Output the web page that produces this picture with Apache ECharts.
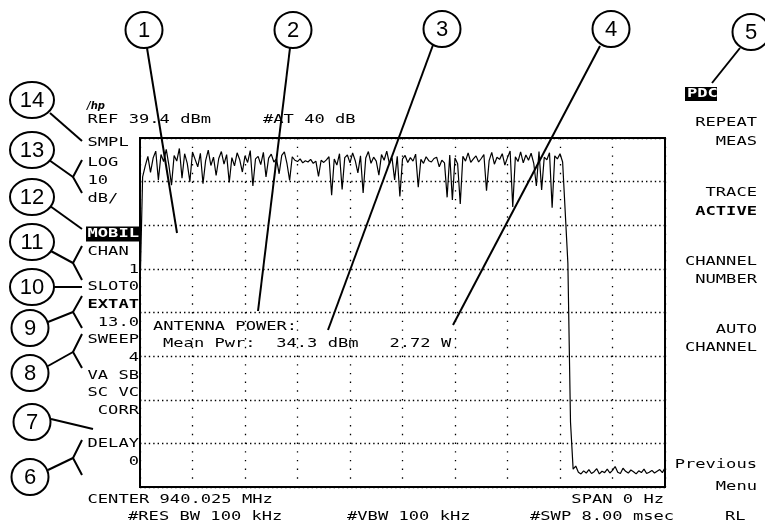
<!DOCTYPE html>
<html>
<head>
<meta charset="utf-8">
<title>Antenna power - zero span</title>
<script src="https://cdn.jsdelivr.net/npm/echarts@6/dist/echarts.min.js"></script>
<style>
  html, body { margin: 0; padding: 0; background: #fff; }
  #container { width: 765px; height: 529px; }
</style>
</head>
<body>
<div id="container"></div>
<script>
// reference level and scale (dBm, 10 dB/div, 8 divisions)
var refLevel = 39.4;
var dbPerDiv = 10;
var divisions = 8;

// sweep: 201 trace points over 8.00 msec (10 divisions)
var sweepPoints = 201;
var xDivisions = 10;

// burst part of the trace, dBm
var burstDbm = [
  4.5, 30.5, 33.0, 35.2, 31.5, 34.8, 36.4, 29.8, 35.6, 34.0,
  36.8, 33.2, 28.6, 35.4, 34.1, 37.0, 30.2, 35.8, 33.6, 29.4,
  36.2, 34.5, 32.8, 35.9, 28.9, 34.2, 36.6, 33.1, 35.0, 30.8,
  34.7, 36.3, 33.4, 35.6, 29.2, 34.9, 33.0, 36.0, 34.4, 31.6,
  35.3, 33.8, 36.5, 28.4, 34.6, 35.2, 33.3, 36.1, 30.5, 34.8,
  35.7, 33.9, 34.6, 31.2, 35.4, 36.2, 33.5, 29.7, 35.1, 34.3,
  34.0, 34.6, 33.7, 34.2, 33.9, 34.5, 33.6, 34.1, 30.6, 34.3,
  33.8, 34.4, 35.1, 26.3, 34.6, 33.2, 35.8, 27.6, 34.9, 35.5,
  33.7, 36.0, 34.2, 31.4, 35.3, 26.8, 34.8, 36.3, 33.6, 35.0,
  34.1, 30.9, 35.6, 34.3, 36.4, 33.5, 34.9, 29.8, 35.2, 26.0,
  34.6, 35.4, 33.8, 34.9, 34.1, 35.7, 28.1, 34.5, 33.6, 35.1,
  34.2, 33.9, 34.7, 35.0, 32.8, 34.3, 33.7, 25.8, 35.5, 25.2,
  34.8, 33.5, 24.3, 35.2, 34.1, 36.0, 33.8, 34.6, 35.3, 33.9,
  34.7, 35.6, 27.3, 34.2, 36.1, 33.4, 35.0, 34.5, 35.8, 33.2,
  34.9, 36.4, 23.6, 35.1, 34.0, 36.2, 33.7, 35.5, 34.3, 35.9,
  33.6, 28.4, 36.3, 27.5, 35.0, 34.4, 36.0, 23.4, 35.3, 34.6,
  35.8, 33.9, 22.3
];
// falling edge at end of burst
var edgeDbm = [10.7, -25.7, -36.5];
// noise floor after the burst
var floorDbm = [
  -35.8, -37.2, -37.6, -36.9, -37.4, -36.6, -37.5, -37.1, -36.4, -37.6,
  -37.0, -37.3, -36.5, -37.4, -36.8, -35.9, -37.2, -37.5, -36.3, -37.0,
  -37.4, -36.7, -37.1, -37.6, -36.9, -37.3, -36.5, -37.5, -37.2, -36.8,
  -37.4, -37.0, -36.6, -37.3, -36.2
];

// screen annotations
var topLine = ['REF 39.4 dBm', '#AT 40 dB'];
var leftLabels = ['SMPL', 'LOG', '10', 'dB/', 'MOBIL', 'CHAN', '    1', 'SLOT0', 'EXTAT',
  ' 13.0', 'SWEEP', '    4', 'VA SB', 'SC VC', ' CORR', 'DELAY', '    0'];
var leftRows = [143, 163, 181, 199, 234, 252, 270, 287, 305, 323, 340, 358, 376, 393, 411, 444, 462];
var softkeys = ['REPEAT', 'MEAS', 'TRACE', 'ACTIVE', 'CHANNEL', 'NUMBER', 'AUTO', 'CHANNEL', 'Previous', 'Menu'];
var softkeyRows = [123, 142, 193, 212, 262, 280, 330, 348, 465, 487];
var measLines = ['ANTENNA POWER:', 'Mean Pwr:  34.3 dBm   2.72 W'];
var bottomLines = ['CENTER 940.025 MHz', 'SPAN 0 Hz', '#RES BW 100 kHz', '#VBW 100 kHz', '#SWP 8.00 msec', 'RL'];
var callouts = ['1', '2', '3', '4', '5', '6', '7', '8', '9', '10', '11', '12', '13', '14'];

var traceDbm = burstDbm.concat(edgeDbm, floorDbm);
var traceData = traceDbm.map(function (v, i) {
  return [i, v - refLevel];
});

var MONO = '"DejaVu Sans Mono", "Liberation Mono", monospace';
var SX = 1.315;

function txt(s, x, y, align, opts) {
  opts = opts || {};
  return {
    type: 'text', x: x, y: y, scaleX: SX, z: 100,
    style: {
      text: s,
      font: (opts.bold ? 'bold ' : '') + '13px ' + MONO,
      fill: opts.fill || '#000',
      align: align, verticalAlign: 'middle',
      textAlign: align, textVerticalAlign: 'middle'
    }
  };
}
function inv(x, y, w, h) {
  return { type: 'rect', z: 99, shape: { x: x, y: y, width: w, height: h }, style: { fill: '#000' } };
}
function seg(pts) {
  return { type: 'polyline', z: 110, shape: { points: pts }, style: { stroke: '#000', lineWidth: 2, fill: null } };
}
function bubble(label, cx, cy) {
  var rx = label.length > 1 ? 22 : 18.5;
  return [
    { type: 'ellipse', z: 110, shape: { cx: cx, cy: cy, rx: rx, ry: 18 }, style: { stroke: '#000', lineWidth: 2, fill: '#fff' } },
    { type: 'text', x: cx, y: cy + 1, z: 111, style: {
      text: label, font: '22px "Liberation Sans", Arial, sans-serif', fill: '#000',
      align: 'center', verticalAlign: 'middle', textAlign: 'center', textVerticalAlign: 'middle' } }
  ];
}

var chart = echarts.init(document.getElementById('container'));

var g = [];
// top
g.push({ type: 'text', x: 87, y: 106, z: 100, style: { text: '/hp', font: 'italic bold 10px "DejaVu Sans"', fill: '#000',
  align: 'left', verticalAlign: 'middle', textAlign: 'left', textVerticalAlign: 'middle' } });
g.push(txt(topLine[0], 87.5, 120, 'left'));
g.push(txt(topLine[1], 263, 120, 'left'));
// left column
leftLabels.forEach(function (s, i) {
  if (s === 'MOBIL') {
    g.push(inv(86, leftRows[i] - 7.5, 53, 15));
    g.push(txt(s, 87.5, leftRows[i], 'left', { fill: '#fff', bold: true }));
  } else {
    g.push(txt(s, 87.5, leftRows[i], 'left', { bold: s === 'EXTAT' }));
  }
});
// softkeys
g.push(inv(685, 87, 32, 14));
g.push(txt('PDC', 687, 94, 'left', { fill: '#fff', bold: true }));
softkeys.forEach(function (s, i) {
  g.push(txt(s, 757, softkeyRows[i], 'right', { bold: s === 'ACTIVE' }));
});
// measurement readout
g.push(txt(measLines[0], 153, 327, 'left'));
g.push(txt(measLines[1], 163, 344, 'left'));
// bottom
g.push(txt(bottomLines[0], 87.5, 500, 'left'));
g.push(txt(bottomLines[1], 664, 500, 'right'));
g.push(txt(bottomLines[2], 128, 517, 'left'));
g.push(txt(bottomLines[3], 347, 517, 'left'));
g.push(txt(bottomLines[4], 530, 517, 'left'));
g.push(txt(bottomLines[5], 725, 517, 'left'));

// callout leaders
g.push(seg([[147, 48], [177, 233]]));
g.push(seg([[290, 48], [258, 311]]));
g.push(seg([[433, 45], [328, 330]]));
g.push(seg([[600, 46], [453, 325]]));
g.push(seg([[740, 48], [712, 83]]));
g.push(seg([[50, 113], [82, 141]]));
g.push(seg([[49, 160], [73, 177]]));
g.push(seg([[82, 160], [73, 177], [82, 193]]));
g.push(seg([[50, 206], [82, 229]]));
g.push(seg([[49, 250], [73, 263]]));
g.push(seg([[82, 246], [73, 263], [82, 280]]));
g.push(seg([[54, 287], [82, 287]]));
g.push(seg([[48, 322], [73, 312]]));
g.push(seg([[82, 296], [73, 312], [82, 328]]));
g.push(seg([[48, 366], [73, 352]]));
g.push(seg([[82, 334], [73, 352], [82, 368]]));
g.push(seg([[51, 419], [93, 429]]));
g.push(seg([[48, 470], [73, 458]]));
g.push(seg([[82, 440], [73, 458], [82, 475]]));

// callout bubbles
var bubblePos = [[144, 30], [293, 30], [442, 29], [611, 29], [751, 32], [30, 477], [32, 422],
  [30, 373], [30, 328], [32, 287], [32, 242], [32, 197], [32, 150], [32, 100]];
callouts.forEach(function (c, i) {
  g = g.concat(bubble(c, bubblePos[i][0], bubblePos[i][1]));
});

var option = {
  animation: false,
  backgroundColor: '#fff',
  grid: {
    left: 140, top: 138, width: 525, height: 349,
    show: true, borderColor: '#000', borderWidth: 2, backgroundColor: 'transparent'
  },
  xAxis: {
    type: 'value', min: 0, max: sweepPoints - 1, interval: (sweepPoints - 1) / xDivisions,
    axisLine: { show: false }, axisTick: { show: false }, axisLabel: { show: false },
    splitLine: { show: true, lineStyle: { color: '#000', width: 1.3, type: [1.4, 7.3] } }
  },
  yAxis: {
    type: 'value', min: -dbPerDiv * divisions, max: 0, interval: dbPerDiv,
    axisLine: { show: false }, axisTick: { show: false }, axisLabel: { show: false },
    splitLine: { show: true, lineStyle: { color: '#000', width: 1.3, type: [1.4, 3] } }
  },
  series: [{
    name: 'trace',
    type: 'line',
    data: traceData,
    showSymbol: false,
    symbol: 'none',
    smooth: false,
    lineStyle: { color: '#000', width: 1.2 },
    z: 5
  }],
  graphic: g
};

chart.setOption(option);
</script>
</body>
</html>
